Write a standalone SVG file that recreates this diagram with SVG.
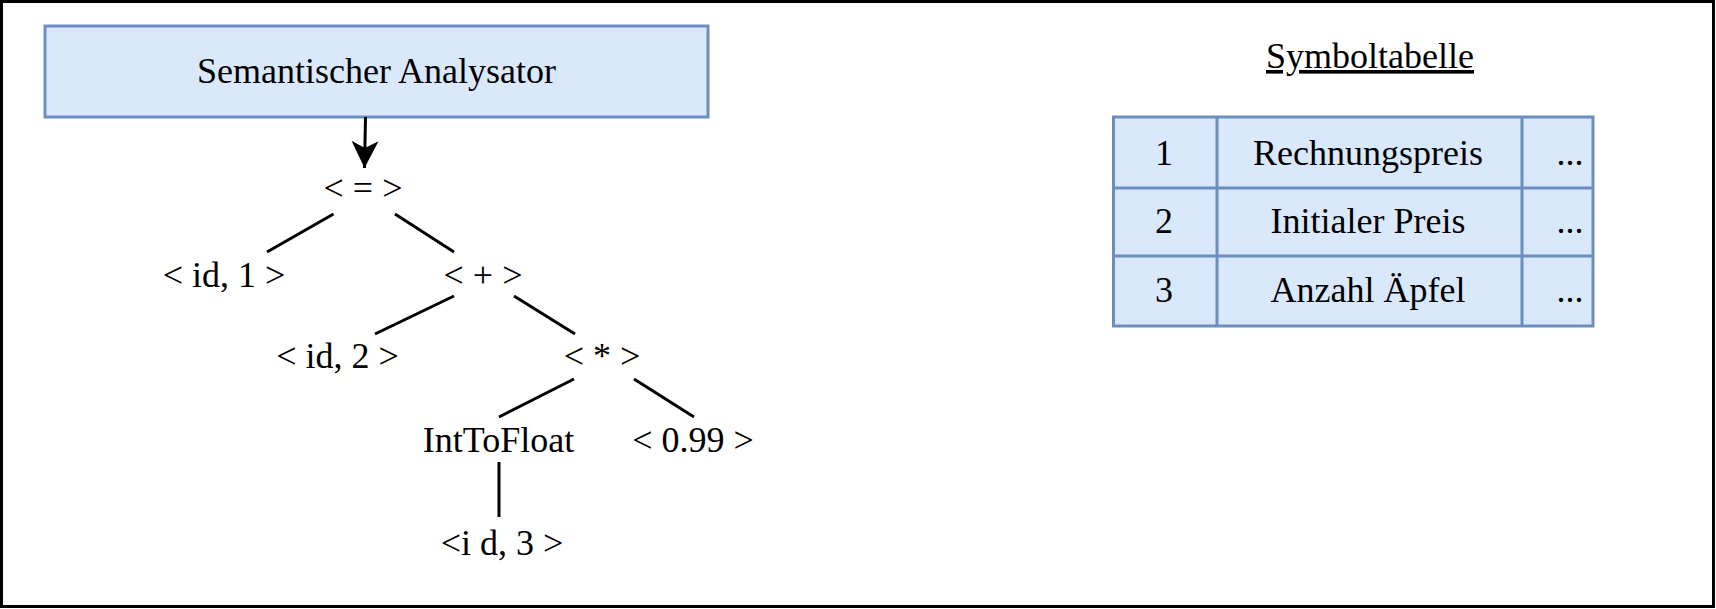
<svg xmlns="http://www.w3.org/2000/svg" width="1716" height="609" viewBox="0 0 1716 609">
<style>
.t{font-family:"Liberation Serif","Times New Roman",serif;font-size:36px;fill:#000;text-anchor:middle}
.tb{font-family:"Liberation Serif","Times New Roman",serif;font-size:36px;fill:#000;text-anchor:middle}
.box{fill:#dae8fc;stroke:#6c8ebf;stroke-width:3}
.edge{stroke:#000;stroke-width:3;fill:none}
</style>
<defs>
<marker id="arr" markerUnits="userSpaceOnUse" markerWidth="30" markerHeight="30" viewBox="0 0 30 30" refX="27" refY="15" orient="auto">
<path d="M0,1.5 L27,15 L0,28.5 L7,15 Z" fill="#000"/>
</marker>
</defs>
<rect x="1.5" y="1.5" width="1712" height="605" fill="#fff" stroke="#000" stroke-width="3"/>
<g id="analysator">
<rect class="box" x="45" y="26" width="663" height="91"/>
<text class="t" x="376.5" y="83" font-size="37">Semantischer Analysator</text>
</g>
<g id="connectors">
<line class="edge" x1="365.5" y1="117" x2="364.5" y2="168" marker-end="url(#arr)"/>
<line class="edge" x1="333.5" y1="214" x2="267" y2="252"/>
<line class="edge" x1="395" y1="214" x2="454" y2="252"/>
<line class="edge" x1="454" y1="296" x2="375" y2="334"/>
<line class="edge" x1="514" y1="296" x2="575" y2="334"/>
<line class="edge" x1="574" y1="379" x2="499" y2="417"/>
<line class="edge" x1="634" y1="379" x2="694" y2="417"/>
<line class="edge" x1="499" y1="462" x2="499" y2="517"/>
</g>
<g id="n-assign"><text class="t" x="363" y="200">&lt; = &gt;</text></g>
<g id="n-id1"><text class="t" x="224" y="287">&lt; id, 1 &gt;</text></g>
<g id="n-plus"><text class="t" x="483" y="287">&lt; + &gt;</text></g>
<g id="n-id2"><text class="t" x="337.5" y="368">&lt; id, 2 &gt;</text></g>
<g id="n-mul"><text class="t" x="602" y="368">&lt; * &gt;</text></g>
<g id="n-inttofloat"><text class="t" x="498.5" y="452">IntToFloat</text></g>
<g id="n-099"><text class="t" x="693" y="452">&lt; 0.99 &gt;</text></g>
<g id="n-id3"><text class="t" x="502" y="555">&lt;i d, 3 &gt;</text></g>
<g id="symboltabelle">
<text class="tb" x="1370" y="68" text-decoration="underline">Symboltabelle</text>
<rect class="box" x="1113.5" y="117" width="479.5" height="209"/>
<line class="box" x1="1113.5" y1="188" x2="1593" y2="188"/>
<line class="box" x1="1113.5" y1="256" x2="1593" y2="256"/>
<line class="box" x1="1217" y1="117" x2="1217" y2="326"/>
<line class="box" x1="1522" y1="117" x2="1522" y2="326"/>
<text class="tb" x="1164" y="165">1</text>
<text class="tb" x="1368" y="165">Rechnungspreis</text>
<text class="tb" x="1570" y="165">...</text>
<text class="tb" x="1164" y="233">2</text>
<text class="tb" x="1368" y="233">Initialer Preis</text>
<text class="tb" x="1570" y="233">...</text>
<text class="tb" x="1164" y="302">3</text>
<text class="tb" x="1368" y="302">Anzahl Äpfel</text>
<text class="tb" x="1570" y="302">...</text>
</g>
</svg>
